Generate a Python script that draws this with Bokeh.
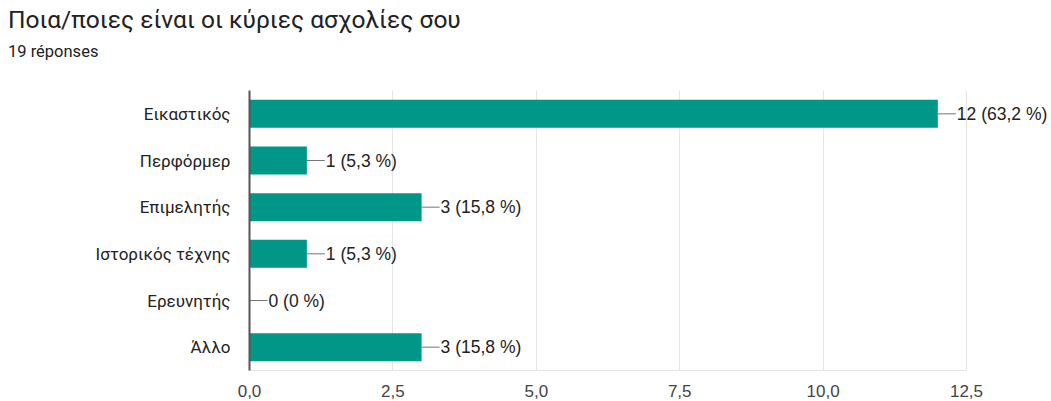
from bokeh.plotting import figure
from bokeh.models import Range1d, FactorRange, FixedTicker, ColumnDataSource, LabelSet, Div
from bokeh.layouts import column
from bokeh.core.properties import value
from bokeh.embed import file_html
from bokeh.resources import INLINE

title_text = "Ποια/ποιες είναι οι κύριες ασχολίες σου"
subtitle_text = "19 réponses"
categories = ["Εικαστικός", "Περφόρμερ", "Επιμελητής", "Ιστορικός τέχνης", "Ερευνητής", "Άλλο"]
counts = [12, 1, 3, 1, 0, 3]
value_labels = ["12 (63,2 %)", "1 (5,3 %)", "3 (15,8 %)", "1 (5,3 %)", "0 (0 %)", "3 (15,8 %)"]
x_ticks = [0, 2.5, 5, 7.5, 10, 12.5]
x_tick_labels = ["0,0", "2,5", "5,0", "7,5", "10,0", "12,5"]

BAR = "#009688"
FONT = "Liberation Sans"

W = 1051
TITLE_H, SUB_H = 40, 20
H = 339
axis_max = 12.5
frame_left, grid_right = 249, 966
border_right = 0
px_per_unit = (grid_right - frame_left) / axis_max
x_view = (W - border_right - frame_left) / px_per_unit
connector = 18 / px_per_unit

src = ColumnDataSource(dict(
    cat=categories,
    val=counts,
    lab=value_labels,
    end=[c + connector for c in counts],
))

title_div = Div(
    text=title_text, width=W, height=TITLE_H, margin=(0, 0, 0, 0),
    styles={"font-family": "Roboto", "font-size": "24.5px", "color": "#202124",
            "line-height": f"{TITLE_H}px", "padding-left": "8px", "white-space": "nowrap"},
)
sub_div = Div(
    text=subtitle_text, width=W, height=SUB_H, margin=(0, 0, 0, 0),
    styles={"font-family": "Roboto", "font-size": "16.5px", "color": "#202124",
            "line-height": "18px", "padding-left": "8px", "padding-top": "3px",
            "white-space": "nowrap"},
)

p = figure(
    width=W, height=H,
    y_range=FactorRange(factors=list(reversed(categories))),
    x_range=Range1d(0, x_view),
    output_backend="svg", toolbar_location=None,
    min_border_left=frame_left, min_border_right=border_right,
    min_border_top=int(round(89.5 - TITLE_H - SUB_H)), min_border_bottom=10,
    title=None, margin=(0, 0, 0, 0),
)

p.hbar(y="cat", right="val", left=0, height=0.6, source=src,
       fill_color=BAR, line_color=None)
p.segment(x0="val", y0="cat", x1="end", y1="cat", source=src,
          line_color="#757575", line_width=1)
labels = LabelSet(x="val", y="cat", text="lab", source=src, x_offset=19,
                  text_baseline="middle", text_align="left",
                  text_font=value(FONT), text_font_size="17.5px", text_color="#222222")
p.add_layout(labels)

p.outline_line_color = None
p.ygrid.grid_line_color = None
p.xgrid.grid_line_color = "#e5e5e5"
p.xgrid.grid_line_width = 1

p.xaxis.ticker = FixedTicker(ticks=x_ticks)
p.xaxis.bounds = (0, axis_max)
p.xaxis.major_label_overrides = {t: l for t, l in zip(x_ticks, x_tick_labels)}
p.xaxis.axis_line_color = "#e5e5e5"
p.xaxis.major_tick_line_color = None
p.xaxis.minor_tick_line_color = None
p.xaxis.major_label_text_font = FONT
p.xaxis.major_label_text_font_size = "17px"
p.xaxis.major_label_text_color = "#444444"
p.xaxis.major_label_standoff = 8

p.yaxis.axis_line_color = "#555555"
p.yaxis.axis_line_width = 2
p.yaxis.major_tick_line_color = None
p.yaxis.minor_tick_line_color = None
p.yaxis.major_label_text_font = "Roboto"
p.yaxis.major_label_text_font_size = "17px"
p.yaxis.major_label_text_color = "#222222"
p.yaxis.major_label_standoff = 13

layout = column(title_div, sub_div, p, spacing=0)
open("out.html", "w").write(file_html(layout, INLINE))
